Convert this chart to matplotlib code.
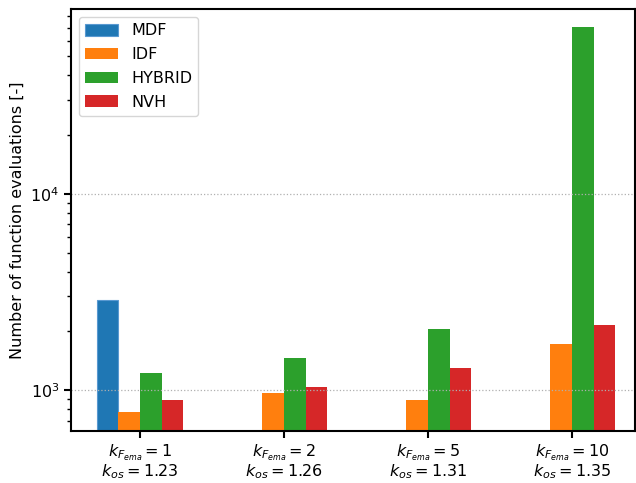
import numpy as np
import matplotlib
matplotlib.use("Agg")
import matplotlib.pyplot as plt

groups = [r"$k_{F_{ema}} = 1$" + "\n" + r"$k_{os} = 1.23$",
          r"$k_{F_{ema}} = 2$" + "\n" + r"$k_{os} = 1.26$",
          r"$k_{F_{ema}} = 5$" + "\n" + r"$k_{os} = 1.31$",
          r"$k_{F_{ema}} = 10$" + "\n" + r"$k_{os} = 1.35$"]
series = ["MDF", "IDF", "HYBRID", "NVH"]
mdf = [2870, np.nan, np.nan, np.nan]
idf = [773, 966, 893, 1720]
hybrid = [1220, 1453, 2050, 70500]
nvh = [890, 1036, 1298, 2148]
colors = ["#1f77b4", "#ff7f0e", "#2ca02c", "#d62728"]

plt.rcParams['font.size'] = 11.5
fig = plt.figure(figsize=(6.36, 4.83), dpi=100)
ax = fig.add_axes([71/636, 1 - 430.7/483, (635 - 71)/636, (430.7 - 9)/483])

x = np.arange(len(groups))
w = 0.15
data = [mdf, idf, hybrid, nvh]
for i, (name, vals, c) in enumerate(zip(series, data, colors)):
    kw = {}
    if i == 0:
        kw = dict(edgecolor=(0.35, 0.6, 0.82), linewidth=0.8)
    ax.bar(x + (i - 1.5) * w, vals, w, label=name, color=c, **kw)

ax.set_yscale("log")
ax.set_ylim(623, 87000)
ax.set_xlim(-0.479, 3.4375)
ax.set_xticks(x)
ax.set_xticklabels(groups, linespacing=0.95)
ax.set_ylabel("Number of function evaluations [-]")
ax.grid(axis="y", which="major", linestyle=":", color="#b0b0b0", linewidth=0.9)
for s in ax.spines.values():
    s.set_linewidth(1.5)
ax.tick_params(which="major", width=1.5, length=5)
ax.tick_params(which="minor", width=1.0, length=3)
ax.legend(loc="upper left", fontsize=11.5, handlelength=2.05, handleheight=0.75,
          labelspacing=0.55)

fig.savefig("out.png", dpi=100)
